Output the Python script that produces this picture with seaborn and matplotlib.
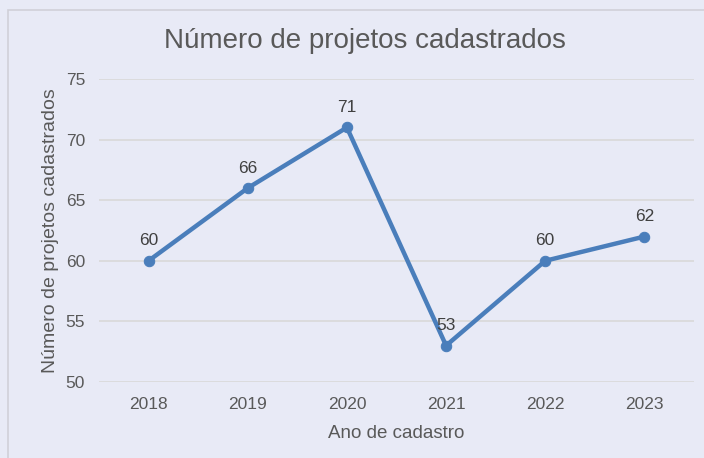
import matplotlib
matplotlib.use("Agg")
import matplotlib.pyplot as plt
import matplotlib.patches as mpatches
import pandas as pd
import seaborn as sns

# Data
anos = ["2018", "2019", "2020", "2021", "2022", "2023"]
projetos = [60, 66, 71, 53, 60, 62]

bg = "#E8EAF6"
grid = "#D9D9D9"
txt = "#595959"
azul = "#4A7EBB"

sns.set_theme(style="whitegrid")
plt.rcParams["font.family"] = ["Liberation Sans", "DejaVu Sans"]

df = pd.DataFrame({"ano": anos, "projetos": projetos})

fig = plt.figure(figsize=(7.04, 4.58), dpi=100, facecolor=bg)
ax = fig.add_axes([0.1406, 0.166, 0.8452, 0.6615])
ax.set_facecolor(bg)

# frame around the chart area
fig.patches.append(mpatches.Rectangle((8 / 704, -0.05), 1.0, 1 - 10 / 458 + 0.05,
                                      transform=fig.transFigure, fill=False,
                                      edgecolor="#D0D0D8", linewidth=1.2))

sns.lineplot(data=df, x="ano", y="projetos", ax=ax, color=azul, linewidth=3.2,
             marker="o", markersize=7.5, markeredgecolor=azul, sort=False)

for a, v in zip(anos, projetos):
    ax.annotate(str(v), (a, v), xytext=(0, 9), textcoords="offset points",
                ha="center", va="bottom", fontsize=12.5, color="#404040")

ax.set_ylim(50, 75)
ax.set_yticks([50, 55, 60, 65, 70, 75])
ax.set_xlim(-0.5, 5.5)
ax.grid(axis="y", color=grid, linewidth=1.2)
ax.grid(axis="x", visible=False)
for s in ax.spines.values():
    s.set_visible(False)
ax.tick_params(axis="both", colors=txt, labelsize=12.5, length=0)
ax.tick_params(axis="y", pad=10)
ax.tick_params(axis="x", pad=11)

ax.set_xlabel("Ano de cadastro", color=txt, fontsize=13.5, labelpad=9)
ax.set_ylabel("Número de projetos cadastrados", color=txt, fontsize=14, labelpad=5)
fig.text(0.518, 1 - 41 / 458, "Número de projetos cadastrados", ha="center",
         va="center", fontsize=20, color=txt)

fig.savefig("out.png", dpi=100, facecolor=bg)
